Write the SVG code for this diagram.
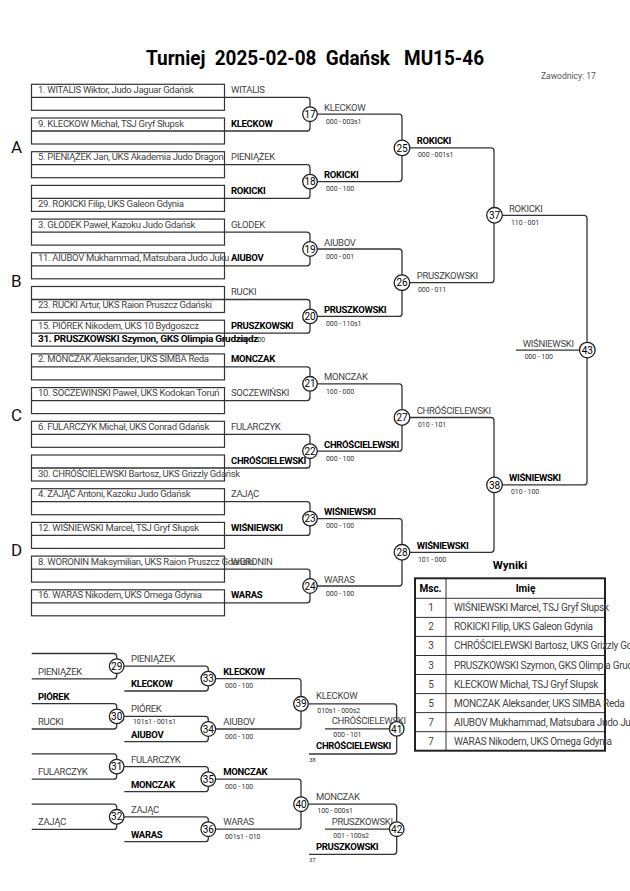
<svg xmlns="http://www.w3.org/2000/svg" width="630" height="891" viewBox="0 0 630 891">
<style>
text{font-family:Roboto,"Liberation Sans",sans-serif;}
.t{font-size:9.5px;fill:#444;letter-spacing:-0.3px}
.g{font-size:9.5px;fill:#444;letter-spacing:-0.3px}
.b{font-size:9.5px;fill:#000;font-weight:bold;letter-spacing:-0.3px}
.s{font-size:7px;fill:#333;letter-spacing:-0.1px}
.r{font-size:6px;fill:#333}
.n{font-size:10px;fill:#000;text-anchor:middle}
.box{fill:none;stroke:#333;stroke-width:1.2}
.ln{fill:none;stroke:#333;stroke-width:1.3}
.c{fill:#fff;stroke:#222;stroke-width:1.3}
.pool{font-size:17px;fill:#111}
.tb{fill:none;stroke:#222;stroke-width:2}
.tl{stroke:#333;stroke-width:1}
.th{font-size:10px;font-weight:bold;fill:#000;text-anchor:middle}
.tn{font-size:10px;fill:#444;text-anchor:middle}
.tt{font-size:10px;fill:#444;letter-spacing:-0.3px}
</style>

<g id="title">
<text x="146" y="65" font-size="21" font-weight="bold" fill="#000" textLength="338" lengthAdjust="spacingAndGlyphs" xml:space="preserve">Turniej  2025-02-08  Gdańsk   MU15-46</text>
<text x="541" y="79" font-size="8.5" fill="#555">Zawodnicy: 17</text>
</g>

<g id="pools">
<text class="pool" x="11" y="153">A</text>
<text class="pool" x="11" y="287">B</text>
<text class="pool" x="11" y="421">C</text>
<text class="pool" x="11" y="556">D</text>
</g>

<g id="entries">
<g id="entry-1"><rect class="box" x="31.5" y="84.3" width="193" height="26"/><text class="t" x="38" y="92.8">1. WITALIS Wiktor, Judo Jaguar Gdańsk</text><text class="g" x="231" y="92.8">WITALIS</text></g>
<g id="entry-9"><rect class="box" x="31.5" y="118" width="193" height="26"/><text class="t" x="38" y="126.5">9. KLECKOW Michał, TSJ Gryf Słupsk</text><text class="b" x="231" y="126.5">KLECKOW</text></g>
<g id="entry-5"><rect class="box" x="31.5" y="151.7" width="193" height="26"/><text class="t" x="38" y="160.2">5. PIENIĄŻEK Jan, UKS Akademia Judo Dragon</text><text class="g" x="231" y="160.2">PIENIĄŻEK</text></g>
<g id="entry-29"><rect class="box" x="31.5" y="185.4" width="193" height="26"/><text class="t" x="38" y="206.9">29. ROKICKI Filip, UKS Galeon Gdynia</text><text class="b" x="231" y="193.9">ROKICKI</text></g>
<g id="entry-3"><rect class="box" x="31.5" y="219.1" width="193" height="26"/><text class="t" x="38" y="227.6">3. GŁODEK Paweł, Kazoku Judo Gdańsk</text><text class="g" x="231" y="227.6">GŁODEK</text></g>
<g id="entry-11"><rect class="box" x="31.5" y="252.8" width="193" height="26"/><text class="t" x="38" y="261.3">11. AIUBOV Mukhammad, Matsubara Judo Juku</text><text class="b" x="231" y="261.3">AIUBOV</text></g>
<g id="entry-23"><rect class="box" x="31.5" y="286.5" width="193" height="26"/><text class="t" x="38" y="308">23. RUCKI Artur, UKS Raion Pruszcz Gdański</text><text class="g" x="231" y="295">RUCKI</text></g>
<g id="entry-15-31"><rect class="box" x="31.5" y="320.2" width="193" height="26"/><text class="t" x="38" y="328.7">15. PIÓREK Nikodem, UKS 10 Bydgoszcz</text><text class="s" x="237" y="341.5">000 - 100</text><text class="b" x="38" y="341.7" textLength="220" lengthAdjust="spacingAndGlyphs">31. PRUSZKOWSKI Szymon, GKS Olimpia Grudziądz</text><text class="b" x="231" y="328.7">PRUSZKOWSKI</text></g>
<g id="entry-2"><rect class="box" x="31.5" y="353.9" width="193" height="26"/><text class="t" x="38" y="362.4">2. MONCZAK Aleksander, UKS SIMBA Reda</text><text class="b" x="231" y="362.4">MONCZAK</text></g>
<g id="entry-10"><rect class="box" x="31.5" y="387.6" width="193" height="26"/><text class="t" x="38" y="396.1">10. SOCZEWINSKI Paweł, UKS Kodokan Toruń</text><text class="g" x="231" y="396.1">SOCZEWIŃSKI</text></g>
<g id="entry-6"><rect class="box" x="31.5" y="421.3" width="193" height="26"/><text class="t" x="38" y="429.8">6. FULARCZYK Michał, UKS Conrad Gdańsk</text><text class="g" x="231" y="429.8">FULARCZYK</text></g>
<g id="entry-30"><rect class="box" x="31.5" y="455" width="193" height="26"/><text class="t" x="38" y="476.5">30. CHRÓŚCIELEWSKI Bartosz, UKS Grizzly Gdańsk</text><text class="b" x="231" y="463.5">CHRÓŚCIELEWSKI</text></g>
<g id="entry-4"><rect class="box" x="31.5" y="488.7" width="193" height="26"/><text class="t" x="38" y="497.2">4. ZAJĄC Antoni, Kazoku Judo Gdańsk</text><text class="g" x="231" y="497.2">ZAJĄC</text></g>
<g id="entry-12"><rect class="box" x="31.5" y="522.4" width="193" height="26"/><text class="t" x="38" y="530.9">12. WIŚNIEWSKI Marcel, TSJ Gryf Słupsk</text><text class="b" x="231" y="530.9">WIŚNIEWSKI</text></g>
<g id="entry-8"><rect class="box" x="31.5" y="556.1" width="193" height="26"/><text class="g" x="231" y="564.6">WORONIN</text><text class="t" x="38" y="564.6">8. WORONIN Maksymilian, UKS Raion Pruszcz Gdański</text></g>
<g id="entry-16"><rect class="box" x="31.5" y="589.8" width="193" height="26"/><text class="t" x="38" y="598.3">16. WARAS Nikodem, UKS Omega Gdynia</text><text class="b" x="231" y="598.3">WARAS</text></g>
</g>

<g id="connectors">
<path class="ln" d="M31.5,97.3 H307 Q310,97.3 310,100.3 V128 Q310,131 307,131 H31.5"/>
<path class="ln" d="M31.5,164.7 H307 Q310,164.7 310,167.7 V195.4 Q310,198.4 307,198.4 H31.5"/>
<path class="ln" d="M31.5,232.1 H307 Q310,232.1 310,235.1 V262.8 Q310,265.8 307,265.8 H31.5"/>
<path class="ln" d="M31.5,299.5 H307 Q310,299.5 310,302.5 V330.2 Q310,333.2 307,333.2 H31.5"/>
<path class="ln" d="M31.5,366.9 H307 Q310,366.9 310,369.9 V397.6 Q310,400.6 307,400.6 H31.5"/>
<path class="ln" d="M31.5,434.3 H307 Q310,434.3 310,437.3 V465 Q310,468 307,468 H31.5"/>
<path class="ln" d="M31.5,501.7 H307 Q310,501.7 310,504.7 V532.4 Q310,535.4 307,535.4 H31.5"/>
<path class="ln" d="M31.5,569.1 H307 Q310,569.1 310,572.1 V599.8 Q310,602.8 307,602.8 H31.5"/>
<path class="ln" d="M310,114.2 H399 Q402,114.2 402,117.2 V178.6 Q402,181.6 399,181.6 H310"/>
<path class="ln" d="M310,249 H399 Q402,249 402,252 V313.4 Q402,316.4 399,316.4 H310"/>
<path class="ln" d="M310,383.8 H399 Q402,383.8 402,386.8 V448.2 Q402,451.2 399,451.2 H310"/>
<path class="ln" d="M310,518.6 H399 Q402,518.6 402,521.6 V583 Q402,586 399,586 H310"/>
<path class="ln" d="M402,147.9 H491 Q494,147.9 494,150.9 V279.7 Q494,282.7 491,282.7 H402"/>
<path class="ln" d="M402,417.5 H491 Q494,417.5 494,420.5 V549.3 Q494,552.3 491,552.3 H402"/>
<path class="ln" d="M494,215.3 H584 Q587,215.3 587,218.3 V481.9 Q587,484.9 584,484.9 H494"/>
<path class="ln" d="M516,350.1 H587"/>
<path class="ln" d="M31.7,653.5 H113.7 Q116.7,653.5 116.7,656.5 V675.8 Q116.7,678.8 113.7,678.8 H31.7"/>
<path class="ln" d="M31.7,703.7 H113.7 Q116.7,703.7 116.7,706.7 V726 Q116.7,729 113.7,729 H31.7"/>
<path class="ln" d="M31.7,753.9 H113.7 Q116.7,753.9 116.7,756.9 V776.2 Q116.7,779.2 113.7,779.2 H31.7"/>
<path class="ln" d="M31.7,804.1 H113.7 Q116.7,804.1 116.7,807.1 V826.4 Q116.7,829.4 113.7,829.4 H31.7"/>
<path class="ln" d="M116.7,666.2 H205.3 Q208.3,666.2 208.3,669.2 V688 Q208.3,691 205.3,691 H124.3"/>
<path class="ln" d="M116.7,716.4 H205.3 Q208.3,716.4 208.3,719.4 V738.7 Q208.3,741.7 205.3,741.7 H124.3"/>
<path class="ln" d="M116.7,766.6 H205.3 Q208.3,766.6 208.3,769.6 V788.7 Q208.3,791.7 205.3,791.7 H124.3"/>
<path class="ln" d="M116.7,816.8 H205.3 Q208.3,816.8 208.3,819.8 V838.7 Q208.3,841.7 205.3,841.7 H124.3"/>
<path class="ln" d="M208.3,678.6 H298 Q301,678.6 301,681.6 V726 Q301,729 298,729 H208.3"/>
<path class="ln" d="M208.3,779.1 H298 Q301,779.1 301,782.1 V826.2 Q301,829.2 298,829.2 H208.3"/>
<path class="ln" d="M301,703.8 H393.7 Q396.7,703.8 396.7,706.8 V751 Q396.7,754 393.7,754 H309"/>
<path class="ln" d="M325,728.9 H396.7"/>
<path class="ln" d="M301,804.2 H393.7 Q396.7,804.2 396.7,807.2 V851.3 Q396.7,854.3 393.7,854.3 H309"/>
<path class="ln" d="M325,829.2 H396.7"/>
</g>

<g id="m17"><text class="g" x="324" y="110.7">KLECKOW</text><text class="s" x="326" y="124">000 - 003s1</text><circle class="c" cx="310" cy="114.2" r="7.3"/><text class="n" x="310" y="117.8">17</text></g>
<g id="m18"><text class="b" x="324" y="178.1">ROKICKI</text><text class="s" x="326" y="191.4">000 - 100</text><circle class="c" cx="310" cy="181.6" r="7.3"/><text class="n" x="310" y="185.2">18</text></g>
<g id="m19"><text class="g" x="324" y="245.5">AIUBOV</text><text class="s" x="326" y="258.8">000 - 001</text><circle class="c" cx="310" cy="249" r="7.3"/><text class="n" x="310" y="252.6">19</text></g>
<g id="m20"><text class="b" x="324" y="312.9">PRUSZKOWSKI</text><text class="s" x="326" y="326.2">000 - 110s1</text><circle class="c" cx="310" cy="316.4" r="7.3"/><text class="n" x="310" y="320">20</text></g>
<g id="m21"><text class="g" x="324" y="380.3">MONCZAK</text><text class="s" x="326" y="393.6">100 - 000</text><circle class="c" cx="310" cy="383.8" r="7.3"/><text class="n" x="310" y="387.4">21</text></g>
<g id="m22"><text class="b" x="324" y="447.7">CHRÓŚCIELEWSKI</text><text class="s" x="326" y="461">000 - 100</text><circle class="c" cx="310" cy="451.2" r="7.3"/><text class="n" x="310" y="454.8">22</text></g>
<g id="m23"><text class="b" x="324" y="515.1">WIŚNIEWSKI</text><text class="s" x="326" y="528.4">000 - 100</text><circle class="c" cx="310" cy="518.6" r="7.3"/><text class="n" x="310" y="522.2">23</text></g>
<g id="m24"><text class="g" x="324" y="582.5">WARAS</text><text class="s" x="326" y="595.8">000 - 100</text><circle class="c" cx="310" cy="586" r="7.3"/><text class="n" x="310" y="589.6">24</text></g>
<g id="m25"><text class="b" x="416.7" y="144.4">ROKICKI</text><text class="s" x="418" y="157.4">000 - 001s1</text><circle class="c" cx="402" cy="147.9" r="7.8"/><text class="n" x="402" y="151.5">25</text></g>
<g id="m26"><text class="g" x="416.7" y="279.2">PRUSZKOWSKI</text><text class="s" x="418" y="292.2">000 - 011</text><circle class="c" cx="402" cy="282.7" r="7.8"/><text class="n" x="402" y="286.3">26</text></g>
<g id="m27"><text class="g" x="416.7" y="414">CHRÓŚCIELEWSKI</text><text class="s" x="418" y="427">010 - 101</text><circle class="c" cx="402" cy="417.5" r="7.8"/><text class="n" x="402" y="421.1">27</text></g>
<g id="m28"><text class="b" x="416.7" y="548.8">WIŚNIEWSKI</text><text class="s" x="418" y="561.8">101 - 000</text><circle class="c" cx="402" cy="552.3" r="7.8"/><text class="n" x="402" y="555.9">28</text></g>
<g id="m37"><text class="g" x="509" y="211.8">ROKICKI</text><text class="s" x="511" y="224.6">110 - 001</text><circle class="c" cx="494.5" cy="215.3" r="7.8"/><text class="n" x="494.5" y="218.9">37</text></g>
<g id="m38"><text class="b" x="509" y="481.4">WIŚNIEWSKI</text><text class="s" x="511" y="494.2">010 - 100</text><circle class="c" cx="494.5" cy="484.9" r="7.8"/><text class="n" x="494.5" y="488.5">38</text></g>
<g id="m43"><text class="g" x="522.7" y="346.6">WIŚNIEWSKI</text><text class="s" x="524.7" y="359.4">000 - 100</text><circle class="c" cx="587.3" cy="350.1" r="7.8"/><text class="n" x="587.3" y="353.7">43</text></g>

<g id="m29"><text class="g" x="38" y="675">PIENIĄŻEK</text><circle class="c" cx="116.7" cy="666.2" r="7.3"/><text class="n" x="116.7" y="669.8">29</text></g>
<g id="m30"><text class="b" x="38" y="699.7">PIÓREK</text><text class="g" x="38" y="724.5">RUCKI</text><circle class="c" cx="116.7" cy="716.4" r="7.3"/><text class="n" x="116.7" y="720">30</text></g>
<g id="m31"><text class="g" x="38" y="775">FULARCZYK</text><circle class="c" cx="116.7" cy="766.6" r="7.3"/><text class="n" x="116.7" y="770.2">31</text></g>
<g id="m32"><text class="g" x="38" y="825">ZAJĄC</text><circle class="c" cx="116.7" cy="816.8" r="7.3"/><text class="n" x="116.7" y="820.4">32</text></g>
<g id="m33"><text class="g" x="131" y="662">PIENIĄŻEK</text><text class="b" x="131" y="687">KLECKOW</text><circle class="c" cx="208.3" cy="678.6" r="7.3"/><text class="n" x="208.3" y="682.2">33</text></g>
<g id="m34"><text class="g" x="131" y="712.2">PIÓREK</text><text class="s" x="133" y="724">101s1 - 001s1</text><text class="b" x="131" y="737.7">AIUBOV</text><circle class="c" cx="208.3" cy="729" r="7.3"/><text class="n" x="208.3" y="732.6">34</text></g>
<g id="m35"><text class="g" x="131" y="762.6">FULARCZYK</text><text class="b" x="131" y="787.7">MONCZAK</text><circle class="c" cx="208.3" cy="779.1" r="7.3"/><text class="n" x="208.3" y="782.7">35</text></g>
<g id="m36"><text class="g" x="131" y="812.8">ZAJĄC</text><text class="b" x="131" y="837.9">WARAS</text><circle class="c" cx="208.3" cy="829.2" r="7.3"/><text class="n" x="208.3" y="832.8">36</text></g>
<g id="m39"><text class="b" x="223.3" y="675">KLECKOW</text><text class="s" x="225" y="688">000 - 100</text><text class="g" x="223.3" y="725">AIUBOV</text><text class="s" x="225" y="738.5">000 - 100</text><circle class="c" cx="301" cy="703.8" r="7.3"/><text class="n" x="301" y="707.4">39</text></g>
<g id="m40"><text class="b" x="223.3" y="775.3">MONCZAK</text><text class="s" x="225" y="788.7">000 - 100</text><text class="g" x="223.3" y="825.4">WARAS</text><text class="s" x="225" y="838.7">001s1 - 010</text><circle class="c" cx="301" cy="804.2" r="7.3"/><text class="n" x="301" y="807.8">40</text></g>
<g id="m41"><text class="g" x="316" y="699.2">KLECKOW</text><text class="s" x="317.3" y="712.5">010s1 - 000s2</text><text class="g" x="331.7" y="723.6">CHRÓŚCIELEWSKI</text><text class="s" x="333.3" y="737">000 - 101</text><text class="b" x="316" y="749.3">CHRÓŚCIELEWSKI</text><text class="r" x="309" y="761.5">38</text><circle class="c" cx="396.7" cy="728.9" r="7.3"/><text class="n" x="396.7" y="732.5">41</text></g>
<g id="m42"><text class="g" x="316" y="800">MONCZAK</text><text class="s" x="317.3" y="813.3">100 - 000s1</text><text class="g" x="331.7" y="824.8">PRUSZKOWSKI</text><text class="s" x="333.3" y="838">001 - 100s2</text><text class="b" x="316" y="850">PRUSZKOWSKI</text><text class="r" x="309" y="862">37</text><circle class="c" cx="396.7" cy="829.2" r="7.3"/><text class="n" x="396.7" y="832.8">42</text></g>

<g id="results">
<text x="510" y="569" font-size="11.5" font-weight="bold" fill="#000" text-anchor="middle">Wyniki</text>
<line class="tl" x1="415" y1="598.3" x2="605" y2="598.3"/>
<line class="tl" x1="415" y1="617.4" x2="605" y2="617.4"/>
<line class="tl" x1="415" y1="636.4" x2="605" y2="636.4"/>
<line class="tl" x1="415" y1="655.5" x2="605" y2="655.5"/>
<line class="tl" x1="415" y1="674.5" x2="605" y2="674.5"/>
<line class="tl" x1="415" y1="693.6" x2="605" y2="693.6"/>
<line class="tl" x1="415" y1="712.6" x2="605" y2="712.6"/>
<line class="tl" x1="415" y1="731.7" x2="605" y2="731.7"/>
<line class="tl" x1="446" y1="578.3" x2="446" y2="750.7"/>
<rect class="tb" x="415" y="578.3" width="190" height="172.4"/>
<text class="th" x="430.5" y="592">Msc.</text>
<text class="th" x="525.5" y="592">Imię</text>
<text class="tn" x="431" y="611.3">1</text><text class="tt" x="454" y="611.3">WIŚNIEWSKI Marcel, TSJ Gryf Słupsk</text>
<text class="tn" x="431" y="630.4">2</text><text class="tt" x="454" y="630.4">ROKICKI Filip, UKS Galeon Gdynia</text>
<text class="tn" x="431" y="649.4">3</text><text class="tt" x="454" y="649.4">CHRÓŚCIELEWSKI Bartosz, UKS Grizzly Gdańsk</text>
<text class="tn" x="431" y="668.5">3</text><text class="tt" x="454" y="668.5">PRUSZKOWSKI Szymon, GKS Olimpia Grudziądz</text>
<text class="tn" x="431" y="687.5">5</text><text class="tt" x="454" y="687.5">KLECKOW Michał, TSJ Gryf Słupsk</text>
<text class="tn" x="431" y="706.6">5</text><text class="tt" x="454" y="706.6">MONCZAK Aleksander, UKS SIMBA Reda</text>
<text class="tn" x="431" y="725.6">7</text><text class="tt" x="454" y="725.6">AIUBOV Mukhammad, Matsubara Judo Juku</text>
<text class="tn" x="431" y="744.7">7</text><text class="tt" x="454" y="744.7">WARAS Nikodem, UKS Omega Gdynia</text>
</g>
</svg>
